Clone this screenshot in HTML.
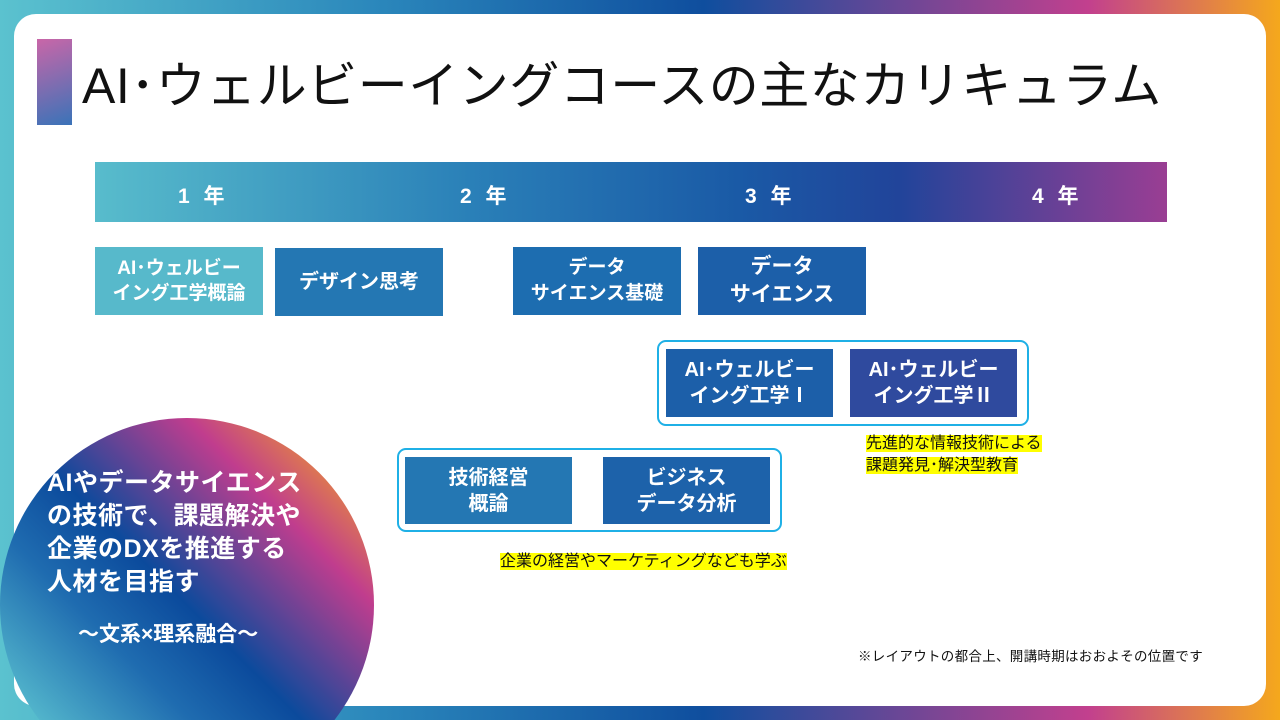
<!DOCTYPE html>
<html><head><meta charset="utf-8"><style>
*{margin:0;padding:0;box-sizing:border-box}
html,body{width:1280px;height:720px;overflow:hidden}
body{font-family:"Liberation Sans","Noto Sans CJK JP",sans-serif}
#w{position:relative;width:1280px;height:720px;overflow:hidden;background:linear-gradient(90deg,#5bc2cf 0%,#2a86bb 30%,#0f4e9e 55%,#c2408e 85%,#f5a81c 100%)}
.panel{position:absolute;left:14px;top:14px;width:1252px;height:692px;background:#fff;border-radius:22px}
.abs{position:absolute}
.acc{left:37px;top:39px;width:35px;height:86px;background:linear-gradient(160deg,#c966a8,#3a73b8)}
.title{left:82px;top:46px;font-size:50px;color:#111;white-space:nowrap;letter-spacing:0.5px}
.bar{left:95px;top:162px;width:1072px;height:60px;background:linear-gradient(90deg,#58bccc 0%,#2a80b8 35%,#1a5aa6 60%,#21449a 75%,#9a3e93 100%)}
.yr{top:180px;color:#fff;font-size:21px;font-weight:bold;letter-spacing:4px}
.box{position:absolute;color:#fff;font-weight:bold;font-size:20px;line-height:26px;display:flex;align-items:center;justify-content:center;text-align:center}
.br{position:absolute;border:2px solid #1fb0e6;border-radius:9px}
.hl{position:absolute;font-size:16px;line-height:22px;color:#111;white-space:nowrap}
.hl span{background:#ffff00}
.circ{left:0;top:418px;width:374px;height:302px;clip-path:circle(187px at 187px 187px);background:linear-gradient(45deg,#5ec6d2 10%,#1f6cb0 35%,#0b4a9c 50%,#c03d8e 75%,#f6a91e 95%) 0 0/374px 374px no-repeat}
.ct{left:47px;top:467px;color:#fff;font-weight:bold;font-size:25px;line-height:33px;white-space:nowrap;letter-spacing:0.5px}
.cs{left:78px;top:618px;color:#fff;font-weight:bold;font-size:21px;white-space:nowrap}
</style></head><body><div id="w">
<div class="panel"></div>
<div class="abs acc"></div>
<div class="abs title">AI･ウェルビーイングコースの主なカリキュラム</div>
<div class="abs bar"></div>
<div class="abs yr" style="left:178px">1 年</div>
<div class="abs yr" style="left:460px">2 年</div>
<div class="abs yr" style="left:745px">3 年</div>
<div class="abs yr" style="left:1032px">4 年</div>

<div class="box" style="left:95px;top:247px;width:168px;height:68px;background:#57b9cb;font-size:19px;line-height:25px">AI･ウェルビー<br>イング工学概論</div>
<div class="box" style="left:275px;top:248px;width:168px;height:68px;background:#2477b3">デザイン思考</div>
<div class="box" style="left:513px;top:247px;width:168px;height:68px;background:#1d6db0;font-size:19px">データ<br>サイエンス基礎</div>
<div class="box" style="left:698px;top:247px;width:168px;height:68px;background:#1c5fa9;font-size:21px;line-height:28px">データ<br>サイエンス</div>

<div class="br" style="left:657px;top:340px;width:372px;height:86px"></div>
<div class="box" style="left:666px;top:349px;width:167px;height:68px;background:#1c5fa9">AI･ウェルビー<br>イング工学Ⅰ</div>
<div class="box" style="left:850px;top:349px;width:167px;height:68px;background:#2f4a9e">AI･ウェルビー<br>イング工学Ⅱ</div>
<div class="hl" style="left:866px;top:433px"><span>先進的な情報技術による</span><br><span>課題発見･解決型教育</span></div>

<div class="br" style="left:397px;top:448px;width:385px;height:84px"></div>
<div class="box" style="left:405px;top:457px;width:167px;height:67px;background:#2477b3">技術経営<br>概論</div>
<div class="box" style="left:603px;top:457px;width:167px;height:67px;background:#1d62aa">ビジネス<br>データ分析</div>
<div class="hl" style="left:500px;top:551px"><span>企業の経営やマーケティングなども学ぶ</span></div>

<div class="abs circ"></div>
<div class="abs ct">AIやデータサイエンス<br>の技術で、課題解決や<br>企業のDXを推進する<br>人材を目指す</div>
<div class="abs cs">～文系×理系融合～</div>
<div class="abs" style="left:858px;top:645px;font-size:13.5px;color:#111;white-space:nowrap;letter-spacing:0.3px">※レイアウトの都合上、開講時期はおおよその位置です</div>
</div></body></html>
